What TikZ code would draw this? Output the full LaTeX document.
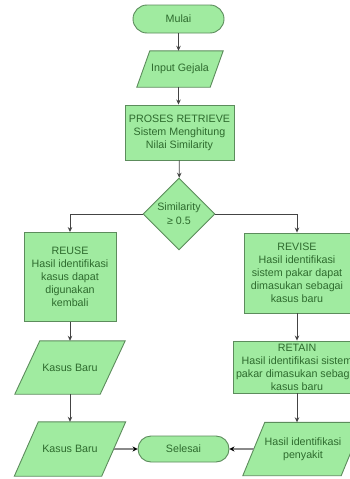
\documentclass[tikz,border=0pt]{standalone}
\usepackage{fontspec}
\setmainfont{Liberation Sans}
\usetikzlibrary{shapes.geometric,backgrounds,arrows.meta}
\definecolor{boxfill}{HTML}{A0EBA0}
\definecolor{boxline}{HTML}{5C8C5C}
\definecolor{boxtext}{HTML}{2E6B2E}
\definecolor{conn}{HTML}{444444}
\definecolor{connlight}{HTML}{8A8A8A}
\newcommand\myparashape[2]{%
  \draw[parabody] ([xshift=#2/2]#1.north west) -- ([xshift=#2/2]#1.north east)
    -- ([xshift=-#2/2]#1.south east) -- ([xshift=-#2/2]#1.south west) -- cycle;}
\begin{document}
\begin{tikzpicture}[x=1pt,y=-1pt,
  txt/.style={text=boxtext, font=\fontsize{10.7}{13}\selectfont, align=center, inner sep=0pt},
  base/.style={txt, draw=boxline, fill=boxfill, line width=0.9pt},
  procbox/.style={base, rectangle},
  terminal/.style={base, rectangle, rounded corners=#1},
  paranode/.style={txt, rectangle},
  parabody/.style={draw=boxline, fill=boxfill, line width=0.9pt},
  decision/.style={base, diamond, aspect=1, minimum width=72pt, minimum height=72pt},
  flow/.style={draw=conn, line width=0.8pt, -{Stealth[length=5pt,width=4.5pt]}},
  flowlight/.style={draw=connlight, line width=1.4pt, -{Stealth[length=5pt,width=5pt,color=black]}}
]
\useasboundingbox (0,0) rectangle (350,479);

\node[terminal=14pt, minimum width=91pt, minimum height=28pt] (mulai) at (178.5,19) {Mulai};
\node[paranode, minimum width=73pt, minimum height=36pt] (input) at (180,69) {Input Gejala};
\node[procbox, minimum width=109pt, minimum height=55pt] (proses) at (179.5,132.5)
  {PROSES RETRIEVE\\Sistem Menghitung\\Nilai Similarity};
\node[decision] (dec) at (179,214) {\raisebox{-2pt}{\shortstack{Similarity\\[1pt]≥ 0.5}}};
\node[procbox, minimum width=92pt, minimum height=89pt] (reuse) at (70,277)
  {REUSE\\Hasil identifikasi\\kasus dapat\\digunakan\\kembali};
\node[procbox, minimum width=106pt, minimum height=80pt] (revise) at (297,273)
  {REVISE\\Hasil identifikasi\\sistem pakar dapat\\dimasukan sebagai\\kasus baru};
\node[procbox, minimum width=128pt, minimum height=52pt] (retain) at (297,367)
  {RETAIN\\Hasil identifikasi sistem\\pakar dimasukan sebagai\\kasus baru};
\node[paranode, minimum width=85pt, minimum height=53pt] (kb1) at (70,367.5) {Kasus Baru};
\node[paranode, minimum width=87pt, minimum height=54pt] (kb2) at (70,449) {Kasus Baru};
\node[paranode, minimum width=98pt, minimum height=53pt] (hasil) at (303,449)
  {Hasil identifikasi\\penyakit};
\node[terminal=13pt, minimum width=91pt, minimum height=26pt] (selesai) at (183.5,449) {Selesai};

\begin{scope}[on background layer]
  \fill[white] (0,0) rectangle (350,479);
  \myparashape{input}{13pt}
  \myparashape{kb1}{25pt}
  \myparashape{kb2}{24pt}
  \myparashape{hasil}{22pt}
\end{scope}

\draw[flow] (mulai) -- (mulai |- input.north);
\draw[flow] (input.south -| mulai) -- (mulai |- proses.north);
\draw[flow] (proses) -- (dec);
\draw[flow] (dec.west) -| (reuse.north);
\draw[flow] (dec.east) -| (revise.north);
\draw[flow] (revise) -- (retain);
\draw[flow] (retain.south) -- (retain.south |- hasil.north);
\draw[flow] (reuse) -- (kb1);
\draw[flow] (kb1) -- (kb2);
\draw[flowlight] (kb2.east) -- (selesai.west);
\draw[flowlight] (hasil.west) -- (selesai.east);
\end{tikzpicture}
\end{document}
